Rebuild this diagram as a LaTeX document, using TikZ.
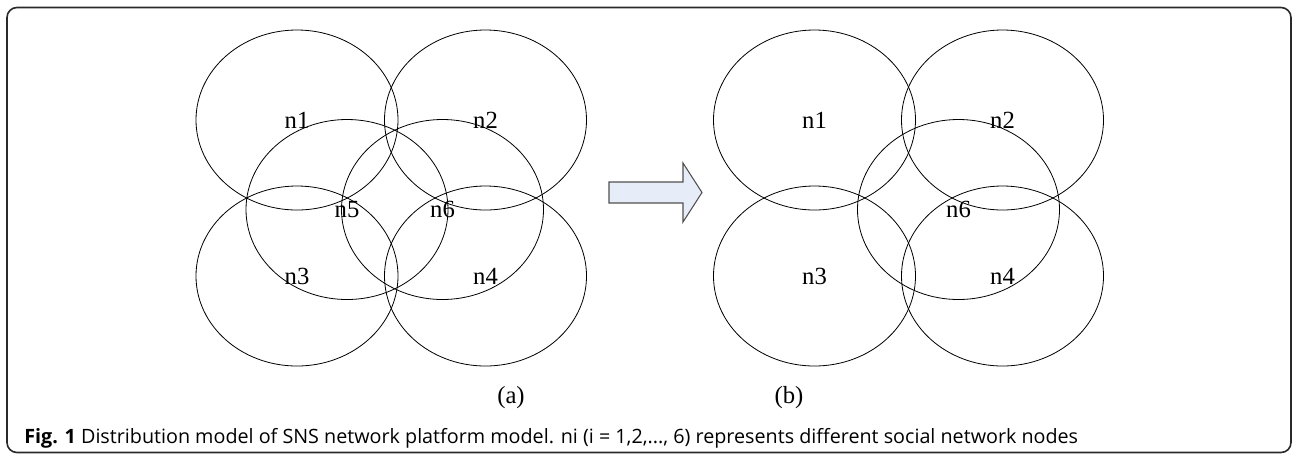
\documentclass[tikz,border=0pt]{standalone}
\usepackage{fontspec}
\setmainfont{Liberation Serif}
\newfontfamily\capfont{Open Sans}
\usetikzlibrary{shapes.geometric}
\definecolor{frameline}{HTML}{2A2A2A}
\definecolor{arrowfill}{HTML}{E7EDF8}
\definecolor{arrowline}{HTML}{505050}

\begin{document}
\begin{tikzpicture}[x=0.75pt,y=-0.75pt,
 cell/.style={draw,ellipse,line width=0.6pt,minimum width=151.5pt,
 minimum height=135pt,inner sep=0pt,font=\fontsize{18.5}{20}\selectfont},
 tag/.style={inner sep=0pt,font=\fontsize{18.5}{20}\selectfont}]
 \useasboundingbox (0,0) rectangle (1293,455);
 \draw[frameline,line width=1.2pt,rounded corners=7.5pt] (7,7.5) rectangle (1291,452.5);
 % (a) six overlapping nodes
 \node[cell] (a1) at (297,120) {n1};
 \node[cell] (a2) at (485.5,120) {n2};
 \node[cell] (a5) at (347,209.5) {n5};
 \node[cell] (a6) at (442.5,209.5) {n6};
 \node[cell] (a3) at (297,276) {n3};
 \node[cell] (a4) at (485.5,276) {n4};
 \node[tag] (ta) at (511,398) {(a)};
 % (b) n5 removed
 \node[cell] (b1) at (814.5,120) {n1};
 \node[cell] (b2) at (1002.5,120) {n2};
 \node[cell] (b6) at (958.5,209.5) {n6};
 \node[cell] (b3) at (814.5,276) {n3};
 \node[cell] (b4) at (1002.5,276) {n4};
 \node[tag] (tb) at (789,398) {(b)};
 % block arrow
 \draw[arrowline,fill=arrowfill,line width=0.8pt]
 (609,182) -- (683,182) -- (683,163) -- (702,192.5) -- (683,222)
 -- (683,203) -- (609,203) -- cycle;
 \node[anchor=base west,inner sep=0pt,font=\capfont\fontsize{14.8}{16}\selectfont] (cap) at (24,443)
 {\textbf{Fig. 1} Distribution model of SNS network platform model. ni (i = 1,2,..., 6) represents different social network nodes};
\end{tikzpicture}
\end{document}
